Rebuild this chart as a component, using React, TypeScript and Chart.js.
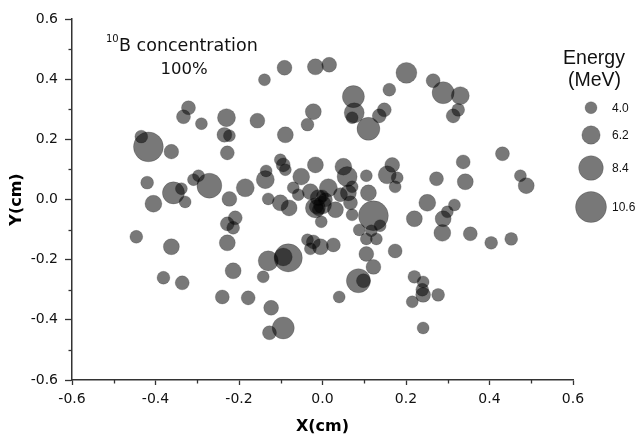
import React, { useEffect, useRef } from 'react';
import { Chart, registerables } from 'chart.js';

Chart.register(...registerables);

// Bubble positions (cm) and energies (MeV)
const xs = [
  -0.434, -0.417, -0.362, -0.333, -0.321, -0.290, -0.230, -0.235, -0.223, -0.228,
  -0.156, -0.139, -0.091, -0.017, 0.016, 0.201, 0.160, 0.074, 0.076, 0.071,
  0.110, 0.136, 0.148, -0.022, -0.036, -0.089, 0.265, 0.289, 0.330, 0.325,
  0.313, 0.431, 0.337, 0.342, 0.273, 0.474, 0.488, 0.251, 0.316, 0.299,
  0.289, 0.220, 0.287, 0.354, 0.404, 0.452, 0.122, 0.071, 0.088, 0.117,
  0.138, 0.105, 0.129, 0.174, 0.105, 0.122, 0.086, 0.098, 0.040, 0.220,
  0.241, 0.239, 0.241, 0.277, 0.215, 0.241, -0.420, -0.357, -0.338, -0.329,
  -0.405, -0.309, -0.297, -0.271, -0.223, -0.185, -0.209, -0.228, -0.214, -0.446,
  -0.362, -0.228, -0.137, -0.135, -0.130, -0.381, -0.336, -0.214, -0.240, -0.178,
  -0.142, -0.130, -0.094, -0.082, -0.123, -0.094, -0.127, -0.029, -0.022, -0.005,
  0.026, -0.003, -0.101, -0.094, -0.089, -0.017, 0.050, 0.059, 0.105, 0.155,
  0.167, 0.179, 0.174, -0.051, -0.070, -0.058, -0.101, -0.080, -0.029, 0.014,
  -0.010, 0.000, 0.007, -0.015, -0.017, 0.031, 0.062, 0.043, 0.071, 0.110,
  0.067, 0.000, -0.010, -0.036,
];
const ys = [
  0.209, 0.175, 0.159, 0.275, 0.305, 0.252, 0.272, 0.215, 0.212, 0.155,
  0.262, 0.398, 0.438, 0.441, 0.448, 0.421, 0.365, 0.342, 0.288, 0.272,
  0.235, 0.278, 0.298, 0.292, 0.249, 0.215, 0.395, 0.355, 0.345, 0.298,
  0.278, 0.152, 0.125, 0.059, 0.069, 0.079, 0.046, -0.011, -0.018, -0.041,
  -0.064, -0.064, -0.111, -0.114, -0.144, -0.131, -0.054, -0.051, -0.101, -0.104,
  -0.087, -0.131, -0.131, -0.171, -0.181, -0.224, -0.270, -0.270, -0.324, -0.257,
  -0.274, -0.300, -0.317, -0.317, -0.340, -0.427, 0.056, 0.022, 0.036, -0.008,
  -0.014, 0.066, 0.079, 0.046, 0.002, 0.039, -0.061, -0.081, -0.094, -0.124,
  -0.157, -0.144, 0.066, 0.095, 0.002, -0.260, -0.277, -0.237, -0.324, -0.327,
  -0.257, -0.204, -0.191, -0.194, -0.360, -0.427, -0.443, -0.164, -0.141, -0.157,
  -0.151, -0.074, 0.132, 0.115, 0.099, 0.115, 0.109, 0.076, 0.079, 0.082,
  0.115, 0.072, 0.042, 0.076, 0.039, 0.016, -0.011, -0.028, 0.026, 0.039,
  0.006, -0.018, -0.001, -0.024, -0.028, -0.034, 0.022, 0.016, 0.042, 0.022,
  -0.011, 0.012, -0.034, -0.134,
];
const energies = [
  4.3, 10.2, 4.9, 4.7, 4.7, 4.0, 6.1, 5.0, 4.0, 4.7,
  5.0, 4.0, 5.0, 5.4, 5.0, 7.1, 4.3, 7.5, 6.8, 4.0,
  7.8, 4.7, 4.7, 5.4, 4.3, 5.4, 4.7, 7.5, 6.1, 4.3,
  4.7, 4.7, 4.7, 5.4, 4.7, 4.0, 5.4, 5.7, 4.0, 4.0,
  5.4, 5.4, 5.7, 4.7, 4.3, 4.3, 10.2, 4.0, 4.0, 4.0,
  4.0, 4.0, 4.0, 4.7, 5.0, 5.0, 8.2, 4.7, 4.0, 4.3,
  4.0, 4.3, 5.0, 4.3, 4.0, 4.0, 4.3, 7.5, 4.0, 4.0,
  5.7, 4.0, 4.0, 8.5, 5.0, 6.1, 4.7, 4.7, 4.3, 4.3,
  5.4, 5.4, 6.1, 4.0, 4.0, 4.3, 4.7, 5.4, 4.7, 4.7,
  4.0, 6.8, 6.1, 9.6, 5.0, 7.5, 4.7, 4.0, 4.7, 5.4,
  4.7, 4.0, 4.0, 4.7, 4.0, 5.4, 5.7, 6.8, 4.0, 6.1,
  5.0, 4.0, 4.0, 5.7, 4.0, 4.0, 5.4, 5.4, 5.4, 6.1,
  5.4, 6.1, 4.7, 4.7, 6.8, 5.4, 5.4, 4.7, 4.0, 5.4,
  4.7, 4.0, 4.0, 4.0,
];

const legendEnergies = [4.0, 6.2, 8.4, 10.6];
const majorTicks = [-0.6, -0.4, -0.2, 0, 0.2, 0.4, 0.6];
const minorTicks = [-0.5, -0.3, -0.1, 0.1, 0.3, 0.5];

const FILL = 'rgba(0,0,0,0.53)';
const EDGE = 'rgba(0,0,0,0.18)';
const AXIS = '#333333';
const radiusFor = (e: number) => 6 + 1.44 * (e - 4);

const overlayPlugin = {
  id: 'overlay',
  afterDraw(chart: any) {
    const { ctx, chartArea } = chart;
    const xScale = chart.scales.x;
    const yScale = chart.scales.y;
    ctx.save();
    // minor ticks
    ctx.strokeStyle = AXIS;
    ctx.lineWidth = 1.3;
    minorTicks.forEach((v) => {
      const px = Math.round(xScale.getPixelForValue(v)) + 0.5;
      ctx.beginPath();
      ctx.moveTo(px, chartArea.bottom);
      ctx.lineTo(px, chartArea.bottom + 3.5);
      ctx.stroke();
      const py = Math.round(yScale.getPixelForValue(v)) + 0.5;
      ctx.beginPath();
      ctx.moveTo(chartArea.left - 3.5, py);
      ctx.lineTo(chartArea.left, py);
      ctx.stroke();
    });

    // axis titles
    ctx.fillStyle = '#000';
    ctx.font = 'bold 16px "DejaVu Sans"';
    ctx.textAlign = 'center';
    ctx.textBaseline = 'middle';
    ctx.fillText('X(cm)', (chartArea.left + chartArea.right) / 2, 427);
    ctx.save();
    ctx.translate(17, (chartArea.top + chartArea.bottom) / 2);
    ctx.rotate(-Math.PI / 2);
    ctx.fillText('Y(cm)', 0, 0);
    ctx.restore();

    // annotation
    ctx.fillStyle = '#111';
    ctx.textAlign = 'left';
    ctx.textBaseline = 'alphabetic';
    ctx.font = '10px "DejaVu Sans"';
    ctx.fillText('10', 106, 42);
    ctx.font = '17.5px "DejaVu Sans"';
    ctx.fillText('B concentration', 119, 51);
    ctx.textAlign = 'center';
    ctx.font = '16.5px "DejaVu Sans"';
    ctx.fillText('100%', 184, 73.5);

    // size legend
    ctx.font = '19.5px "Liberation Sans", Arial';
    ctx.fillText('Energy', 594, 63.5);
    ctx.fillText('(MeV)', 594.5, 86);
    const legendY = [107.7, 135, 168, 207];
    ctx.font = '12px "Liberation Sans", Arial';
    ctx.textAlign = 'left';
    ctx.textBaseline = 'middle';
    legendEnergies.forEach((e, i) => {
      ctx.beginPath();
      ctx.arc(591, legendY[i], radiusFor(e), 0, Math.PI * 2);
      ctx.fillStyle = FILL;
      ctx.fill();
      ctx.strokeStyle = EDGE;
      ctx.lineWidth = 1;
      ctx.stroke();
      ctx.fillStyle = '#111';
      ctx.fillText(e.toFixed(1), 612, legendY[i] + 0.5);
    });
    ctx.restore();
  },
};

export default function App() {
  const ref = useRef<HTMLCanvasElement | null>(null);

  useEffect(() => {
    if (!ref.current) return;
    const data = xs.map((x, i) => ({ x, y: ys[i], r: radiusFor(energies[i]) }));
    const tickFont = { family: '"DejaVu Sans"', size: 14 };
    const chart = new Chart(ref.current, {
      type: 'bubble',
      data: {
        datasets: [
          {
            label: 'Energy',
            data,
            backgroundColor: FILL,
            borderColor: EDGE,
            borderWidth: 1,
          },
        ],
      },
      options: {
        animation: false,
        responsive: false,
        devicePixelRatio: 1,
        layout: { padding: { left: 0, right: 65, top: 19, bottom: 0 } },
        plugins: { legend: { display: false }, tooltip: { enabled: false } },
        scales: {
          x: {
            type: 'linear',
            min: -0.6,
            max: 0.6,
            afterBuildTicks: (s: any) => {
              s.ticks = majorTicks.map((v) => ({ value: v }));
            },
            afterFit: (s: any) => {
              s.height = 61;
            },
            grid: {
              drawOnChartArea: false,
              drawTicks: true,
              tickLength: 5,
              tickWidth: 1.3,
              tickColor: AXIS,
            },
            border: { display: true, color: AXIS, width: 1.5 },
            ticks: {
              autoSkip: false,
              maxRotation: 0,
              padding: 6,
              color: '#111',
              font: tickFont,
              callback: (v: any) => Number(v).toFixed(1),
            },
          },
          y: {
            type: 'linear',
            min: -0.6,
            max: 0.6,
            afterBuildTicks: (s: any) => {
              s.ticks = majorTicks.map((v) => ({ value: v }));
            },
            afterFit: (s: any) => {
              s.width = 72;
            },
            grid: {
              drawOnChartArea: false,
              drawTicks: true,
              tickLength: 7,
              tickWidth: 1.3,
              tickColor: AXIS,
            },
            border: { display: true, color: AXIS, width: 1.5 },
            ticks: {
              autoSkip: false,
              padding: 7,
              color: '#111',
              font: tickFont,
              callback: (v: any) => Number(v).toFixed(1),
            },
          },
        },
      },
      plugins: [overlayPlugin],
    } as any);
    return () => chart.destroy();
  }, []);

  return (
    <div style={{ position: 'fixed', left: 0, top: 0, width: 638, height: 441, background: '#fff' }}>
      <canvas ref={ref} width={638} height={441} style={{ width: 638, height: 441, display: 'block' }} />
    </div>
  );
}
